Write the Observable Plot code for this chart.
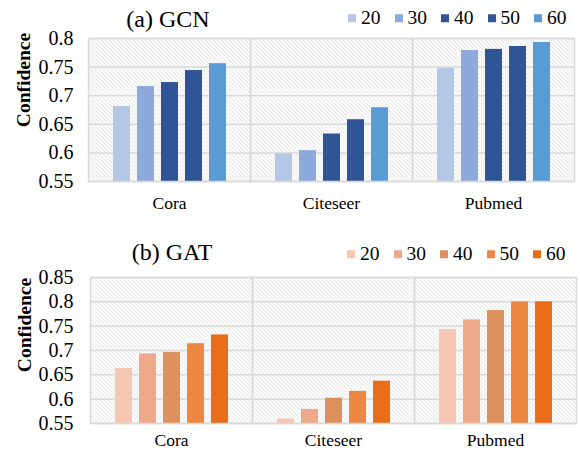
<!DOCTYPE html>
<html>
<head>
<meta charset="utf-8">
<script src="https://cdn.jsdelivr.net/npm/d3@7"></script>
<script src="https://cdn.jsdelivr.net/npm/@observablehq/plot@0.6"></script>
<style>
  body { margin: 0; background: #fff; }
  #root { position: relative; width: 580px; height: 462px; overflow: hidden; background: #fff; color: #000; }
  .chart { position: absolute; left: 0; }
  .title { position: absolute; font-size: 24px; line-height: 1; white-space: nowrap; transform: translate(-50%, -50%); }
  .ylab { position: absolute; font-size: 19.5px; font-weight: bold; line-height: 1; white-space: nowrap; transform: translate(-50%, -50%) rotate(-90deg); }
  .legend { position: absolute; display: flex; align-items: center; gap: 14px; font-size: 19.5px; line-height: 1; transform: translateY(-50%); }
  .legend .item { display: flex; align-items: center; }
  .legend .sw { display: inline-block; width: 8px; height: 8px; margin-right: 5px; }
</style>
</head>
<body>
<svg width="0" height="0" style="position:absolute">
  <defs>
    <pattern id="hatch" patternUnits="userSpaceOnUse" width="4" height="4">
      <path d="M0,0 L4,4 M-1,3 L1,5 M3,-1 L5,1" stroke="#d6d6d6" stroke-width="0.9" fill="none"/>
    </pattern>
  </defs>
</svg>
<div id="root"></div>
<script>
const datasets = ["Cora", "Citeseer", "Pubmed"];
const sizes = ["20", "30", "40", "50", "60"];

// GCN confidence per dataset, in order of sizes
const gcnCora     = [0.681, 0.716, 0.723, 0.744, 0.756];
const gcnCiteseer = [0.598, 0.604, 0.633, 0.658, 0.679];
const gcnPubmed   = [0.748, 0.779, 0.781, 0.786, 0.793];

// GAT confidence per dataset
const gatCora     = [0.663, 0.693, 0.696, 0.714, 0.732];
const gatCiteseer = [0.559, 0.579, 0.602, 0.616, 0.637];
const gatPubmed   = [0.743, 0.763, 0.782, 0.800, 0.800];

const gcnTicks = [0.55, 0.6, 0.65, 0.7, 0.75, 0.8];
const gatTicks = [0.55, 0.6, 0.65, 0.7, 0.75, 0.8, 0.85];

const gcnColors = ["#b4c7e7", "#8eaadc", "#2f5597", "#2f5597", "#5b9bd5"];
const gatColors = ["#f6c7b3", "#eea88a", "#dd915f", "#ee8743", "#ea6d1a"];

const FONT = "Liberation Serif";

function rows(seriesByDataset) {
  const out = [];
  datasets.forEach((ds, i) => {
    sizes.forEach((s, j) => out.push({dataset: ds, size: s, value: seriesByDataset[i][j]}));
  });
  return out;
}

function chart({data, ticks, colors, height, mt, mb, ml, mr, yPad, fxPad}) {
  const base = ticks[0];
  const svg = Plot.plot({
    width: 580,
    height,
    marginTop: mt,
    marginBottom: mb,
    marginLeft: ml,
    marginRight: mr,
    style: {color: "#000", background: "transparent"},
    fx: {domain: datasets, padding: 0, label: null},
    x: {domain: sizes, paddingInner: 0.31, paddingOuter: 0.94, axis: null},
    y: {domain: [ticks[0], ticks[ticks.length - 1]], label: null},
    color: {domain: sizes, range: colors},
    marks: [
      Plot.frame({fill: "url(#hatch)"}),
      Plot.gridY(ticks, {stroke: "#d9d9d9", strokeOpacity: 1, strokeWidth: 1.5}),
      Plot.barY(data, {fx: "dataset", x: "size", y1: base, y2: "value", fill: "size"}),
      Plot.frame({stroke: "#d9d9d9", strokeWidth: 1.5}),
      Plot.axisY({ticks, tickSize: 0, tickPadding: yPad, fontSize: 20, label: null,
                  tickFormat: d => String(+d.toFixed(2))}),
      Plot.axisFx({anchor: "bottom", tickSize: 0, tickPadding: fxPad, fontSize: 17.5, label: null})
    ]
  });
  svg.setAttribute("font-family", FONT);
  svg.style.fontFamily = FONT;
  svg.querySelectorAll("g, text").forEach(el => { if (el.hasAttribute("font-family")) el.setAttribute("font-family", FONT); });
  return svg;
}

const root = document.getElementById("root");
root.style.fontFamily = FONT;

const a = chart({data: rows([gcnCora, gcnCiteseer, gcnPubmed]), ticks: gcnTicks, colors: gcnColors,
  height: 225, mt: 38, mb: 44, ml: 87, mr: 6, yPad: 15, fxPad: 15});
a.classList.add("chart");
a.style.top = "0px";
root.appendChild(a);

const b = chart({data: rows([gatCora, gatCiteseer, gatPubmed]), ticks: gatTicks, colors: gatColors,
  height: 230, mt: 45, mb: 39, ml: 90, mr: 4, yPad: 17, fxPad: 10});
b.classList.add("chart");
b.style.top = "232px";
root.appendChild(b);

function addDiv(cls, text, left, top) {
  const d = document.createElement("div");
  d.className = cls;
  d.textContent = text;
  d.style.left = left + "px";
  d.style.top = top + "px";
  d.style.fontFamily = FONT;
  root.appendChild(d);
}
addDiv("title", "(a) GCN", 168, 19);
addDiv("title", "(b) GAT", 172, 252);
addDiv("ylab", "Confidence", 24, 80);
addDiv("ylab", "Confidence", 25, 325);

function legend(colors, left, top) {
  const l = document.createElement("div");
  l.className = "legend";
  l.style.left = left + "px";
  l.style.top = top + "px";
  l.style.fontFamily = FONT;
  sizes.forEach((s, i) => {
    const it = document.createElement("div");
    it.className = "item";
    const sw = document.createElement("span");
    sw.className = "sw";
    sw.style.background = colors[i];
    it.appendChild(sw);
    it.appendChild(document.createTextNode(s));
    l.appendChild(it);
  });
  root.appendChild(l);
}
legend(gcnColors, 348, 18);
legend(gatColors, 347, 254);
</script>
</body>
</html>
